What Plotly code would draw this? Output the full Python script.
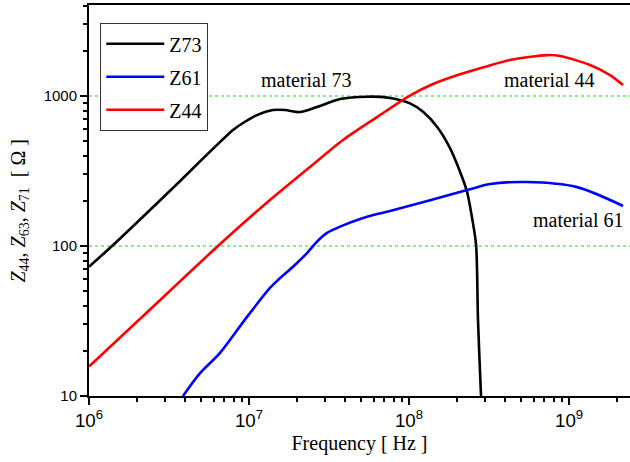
import math
import plotly.graph_objects as go

# ---------------- data ----------------
f73 = [1.0e6, 1.393e6, 3.162e6, 7.943e6, 9.173e6, 1.122e7, 1.413e7, 1.679e7, 2.084e7,
       2.661e7, 3.707e7, 5.464e7, 7.603e7, 1.014e8, 1.224e8, 1.496e8, 1.803e8, 2.084e8,
       2.304e8, 2.477e8, 2.624e8, 2.698e8, 2.818e8, 2.858e8]
z73 = [72.8, 100, 230, 593, 661, 746, 807, 807, 782,
       845, 955, 990, 971, 893, 785, 624, 450, 313,
       230, 154, 102, 32.1, 10, 6.9]

f61 = [3.868e6, 4.943e6, 6.592e6, 9.716e6, 1.352e7, 1.517e7, 1.884e7, 2.304e7, 2.661e7,
       3.073e7, 3.707e7, 4.943e7, 6.31e7, 7.603e7, 2.304e8, 3.206e8, 5.464e8, 1.122e9, 2.175e9]
z61 = [10, 14.2, 19.4, 33.7, 52.5, 59.3, 72.8, 89.7, 106.9,
       122.2, 134.6, 151.4, 163.3, 171, 236, 259, 267, 247, 185]

f44 = [1.0e6, 2.512e6, 6.397e6, 1.259e7, 2.404e7, 3.869e7, 6.31e7, 1.0e8, 1.413e8,
       2.084e8, 3.0e8, 4.276e8, 7.288e8, 8.79e8, 1.352e9, 1.803e9, 2.175e9]
z44 = [15.7, 39.4, 100, 190, 336.5, 509, 724, 1000, 1202,
       1396, 1567, 1738, 1875, 1849, 1611, 1380, 1183]

series_names = ["Z73", "Z61", "Z44"]
series_colors = ["#000000", "#0000ff", "#ff0000"]

y_ticks = [10, 100, 1000]
y_ticktext = ["10", "100", "1000"]

labels = ["material 73", "material 44", "material 61"]
label_f = [2.3e7, 7.5e8, 1.14e9]
label_z = [1279, 1279, 149]

# ---------------- figure ----------------
serif = "Liberation Serif, Times New Roman, serif"
sans = "Liberation Sans, Arial, sans-serif"

fig = go.Figure()
for name, col, xs, ys in zip(series_names, series_colors, [f73, f61, f44], [z73, z61, z44]):
    fig.add_trace(go.Scatter(
        x=xs, y=ys, mode="lines", name=name, legendgroup=name,
        line=dict(color=col, width=2.6, shape="spline", smoothing=0.8),
    ))

for t, fx, zy in zip(labels, label_f, label_z):
    fig.add_annotation(x=math.log10(fx), y=math.log10(zy), xref="x", yref="y",
                       text=t, showarrow=False,
                       font=dict(family=serif, size=20, color="#000"))

fig.add_annotation(
    xref="paper", yref="paper", x=-0.157, y=0.473, textangle=-90, showarrow=False,
    text="<i>Z</i><sub>44</sub>, <i>Z</i><sub>63</sub>, <i>Z</i><sub>71</sub>  [ Ω ]",
    font=dict(family=serif, size=20, color="#000"),
)

minor_common = dict(ticks="outside", ticklen=4, tickwidth=1.5, tickcolor="#000", dtick="D1", showgrid=False)

fig.update_layout(
    width=630, height=462,
    margin=dict(l=89, r=0, t=5, b=66),
    paper_bgcolor="white", plot_bgcolor="white",
    showlegend=True,
    legend=dict(
        x=0.0203, y=0.954, xanchor="left", yanchor="top",
        bordercolor="#333", borderwidth=1.3, bgcolor="white",
        font=dict(family=serif, size=20, color="#000"),
        itemwidth=58, tracegroupgap=4,
    ),
    xaxis=dict(
        type="log", range=[6, 9.381], dtick=1, exponentformat="power", showexponent="all",
        showline=True, linecolor="#000", linewidth=2, mirror=True,
        ticks="outside", ticklen=7, tickwidth=1.5, tickcolor="#000",
        minor=minor_common,
        showgrid=False, zeroline=False, automargin=False,
        tickfont=dict(family=sans, size=15, color="#000"),
        title=dict(text="Frequency [ Hz ]", font=dict(family=serif, size=20, color="#000"), standoff=6),
    ),
    yaxis=dict(
        type="log", range=[1, 3.607], tickmode="array", tickvals=y_ticks, ticktext=y_ticktext,
        showline=True, linecolor="#000", linewidth=2, mirror=False,
        ticks="outside", ticklen=7, tickwidth=1.5, tickcolor="#000",
        minor=minor_common,
        showgrid=True, gridcolor="#7cf57c", gridwidth=1.5, griddash="dot",
        zeroline=False, automargin=False,
        tickfont=dict(family=sans, size=15, color="#000"),
    ),
)

fig.write_html("out.html")
